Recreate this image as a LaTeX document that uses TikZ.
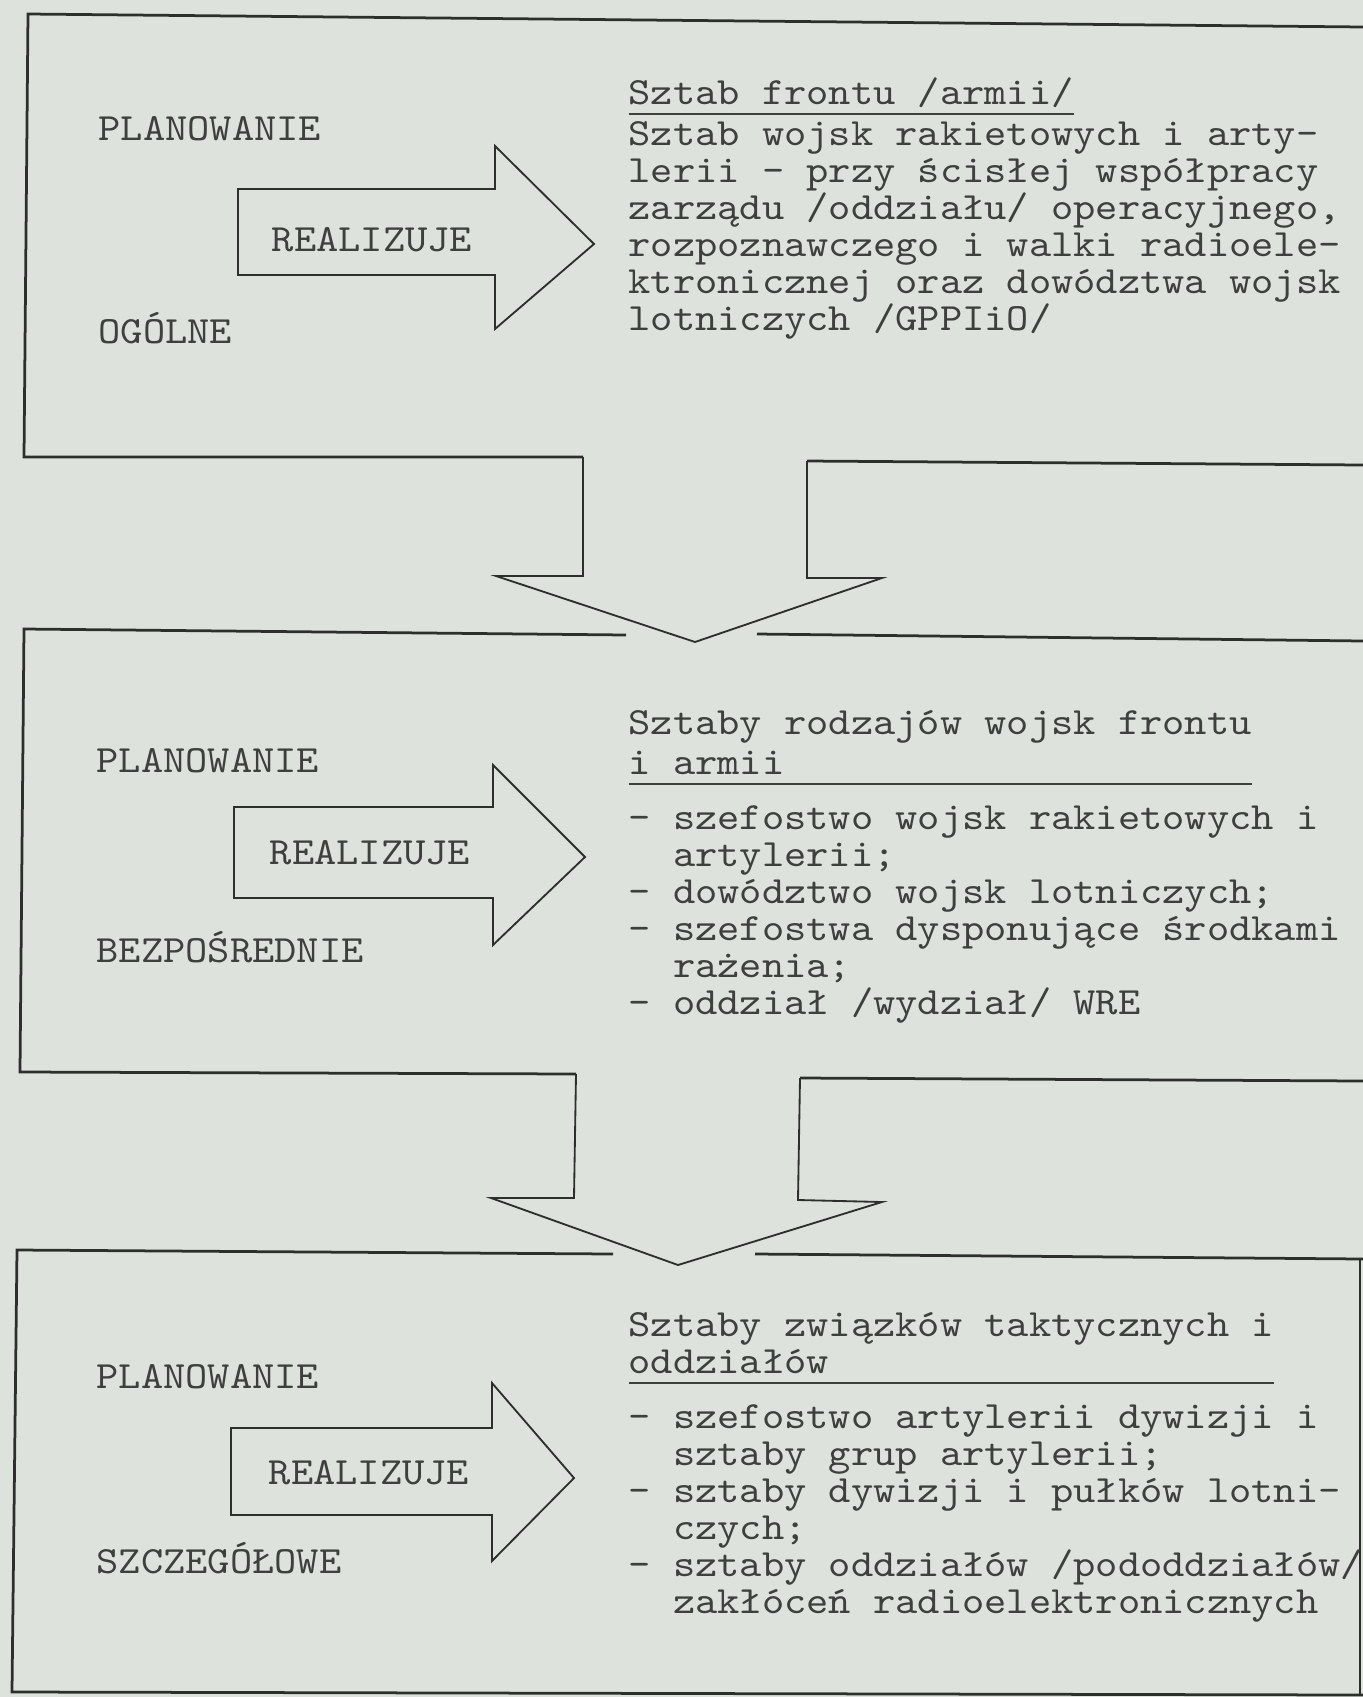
\documentclass[tikz,border=0pt]{standalone}
\usepackage{fontspec}
\usepackage{xcolor}
\usepackage{tikz}

\newfontfamily\typewriter{lmmono10-regular.otf}[FakeStretch=1.1]

\definecolor{paper}{RGB}{221,227,220}
\definecolor{ink}{RGB}{62,64,62}
\definecolor{rulegray}{RGB}{45,46,45}

\newcommand{\typeul}[1]{\rlap{\rule[-3.6pt]{#1\fontcharwd\font`x}{0.8pt}}}
\newcommand{\ind}{\hphantom{xx}}

\begin{document}
\begin{tikzpicture}[x=0.327pt,y=-0.327pt,
	typed/.style={font={\typewriter\fontsize{12.6pt}{12.1pt}\selectfont\lineskiplimit=-20pt}, text=ink, inner sep=0pt},
	block/.style={typed, align=left, anchor=north west},
	boxline/.style={draw=rulegray, line width=0.9pt},
	arrowline/.style={draw=rulegray, line width=0.6pt, line join=miter}]

\useasboundingbox (0,0) rectangle (1363,1697);
\fill[paper] (0,0) rectangle (1363,1697);

\begin{scope}

\draw[boxline] (1363,27)--(28,14)--(24,457)--(583,457);
\draw[boxline] (807,461)--(1363,465);

\draw[arrowline] (238,189)--(495,189)--(495,146)--(594,244)--(495,329)--(495,275)--(238,275)--cycle;
\draw[arrowline] (583,457)--(583,576)--(496,576)--(695,642)--(882,578)--(807,578)--(807,461);

\node[typed, anchor=base west] (plan1) at (98,140) {PLANOWANIE};
\node[typed, anchor=base west] (ogolne) at (98,343) {OGÓLNE};
\node[typed, anchor=base] (real1) at (372,251) {REALIZUJE};

\node[block] (sztab1) at (628,67) {\rule{0pt}{12pt}\typeul{20}Sztab frontu /armii/\\[1.3pt]
	Sztab wojsk rakietowych i arty-\\
	lerii - przy ścisłej współpracy\\
	zarządu /oddziału/ operacyjnego,\\
	rozpoznawczego i walki radioele-\\
	ktronicznej oraz dowództwa wojsk\\
	lotniczych /GPPIiO/};

\end{scope}

\begin{scope}

\draw[boxline] (626,635)--(24,629)--(20,1072)--(576,1074);
\draw[boxline] (757,634)--(1363,641);
\draw[boxline] (800,1078)--(1363,1081);

\draw[arrowline] (234,807)--(493,807)--(493,765)--(585,857)--(493,945)--(493,898)--(234,898)--cycle;
\draw[arrowline] (576,1074)--(574,1198)--(491,1198)--(678,1265)--(882,1202)--(798,1200)--(800,1078);

\node[typed, anchor=base west] (plan2) at (96,772) {PLANOWANIE};
\node[typed, anchor=base west] (bezp) at (96,962) {BEZPOŚREDNIE};
\node[typed, anchor=base] (real2) at (370,864) {REALIZUJE};

\node[block] (sztab2) at (628,697) {\rule{0pt}{12pt}Sztaby rodzajów wojsk frontu\\[1pt]
	\typeul{28}i armii\\[5.9pt]
	- szefostwo wojsk rakietowych i\\
	\ind artylerii;\\
	- dowództwo wojsk lotniczych;\\
	- szefostwa dysponujące środkami\\
	\ind rażenia;\\
	- oddział /wydział/ WRE};

\end{scope}

\begin{scope}

\draw[boxline] (613,1254)--(17,1250)--(12,1692)--(1363,1695);
\draw[boxline] (755,1254)--(1363,1259);
\draw[boxline] (1360,1258)--(1360,1695);

\draw[arrowline] (231,1428)--(492,1428)--(492,1383)--(574,1478)--(492,1561)--(492,1515)--(231,1515)--cycle;

\node[typed, anchor=base west] (plan3) at (96,1388) {PLANOWANIE};
\node[typed, anchor=base west] (szczeg) at (96,1573) {SZCZEGÓŁOWE};
\node[typed, anchor=base] (real3) at (369,1484) {REALIZUJE};

\node[block] (sztab3) at (628,1299) {\rule{0pt}{12pt}Sztaby związków taktycznych i\\
	\typeul{29}oddziałów\\[5.9pt]
	- szefostwo artylerii dywizji i\\
	\ind sztaby grup artylerii;\\
	- sztaby dywizji i pułków lotni-\\
	\ind czych;\\
	- sztaby oddziałów /pododdziałów/\\
	\ind zakłóceń radioelektronicznych};

\end{scope}

\end{tikzpicture}
\end{document}
